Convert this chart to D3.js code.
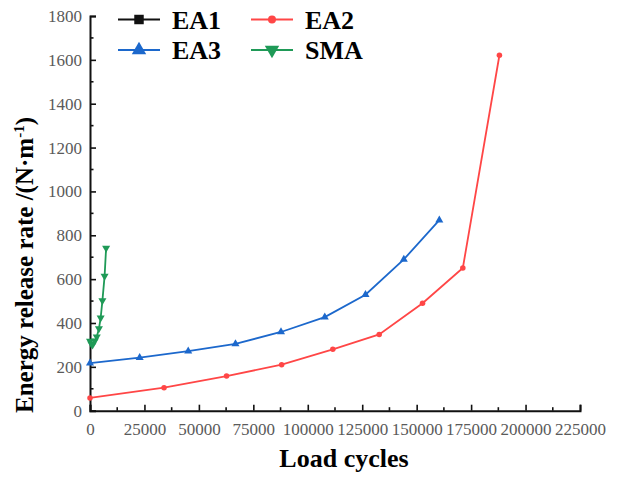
<!DOCTYPE html>
<html>
<head>
<meta charset="utf-8">
<script src="https://cdn.jsdelivr.net/npm/d3@7"></script>
<style>
  body { margin: 0; background: #fff; }
  svg { display: block; }
</style>
</head>
<body>
<div id="chart"></div>
<script>
// data
const ea2Cycles = [0, 34000, 62700, 88000, 111500, 132800, 152700, 171200, 188000];
const ea2Rate = [58, 105, 158, 210, 280, 348, 490, 651, 1621];
const ea3Cycles = [0, 22800, 45100, 66800, 87700, 107800, 126500, 144100, 160400];
const ea3Rate = [217, 242, 272, 305, 359, 427, 529, 690, 869];
const smaCycles = [0, 600, 1200, 2200, 3100, 4100, 4900, 5700, 6700, 7400];
const smaRate = [318, 305, 300, 319, 337, 374, 423, 502, 614, 742];
const ea1Cycles = [];
const ea1Rate = [];

const xTicks = [0, 25000, 50000, 75000, 100000, 125000, 150000, 175000, 200000, 225000];
const yTicks = [0, 200, 400, 600, 800, 1000, 1200, 1400, 1600, 1800];

const width = 619, height = 477;
const plotLeft = 90, plotRight = 580, plotTop = 16, plotBottom = 410.7;

const svg = d3.select("#chart").append("svg")
    .attr("width", width)
    .attr("height", height);

const x = d3.scaleLinear().domain([0, 225000]).range([plotLeft, plotRight]);
const y = d3.scaleLinear().domain([0, 1800]).range([plotBottom, plotTop]);

const serif = "'Liberation Serif', 'Times New Roman', serif";

// axes, ticks pointing inward
const xAxis = d3.axisBottom(x).tickValues(xTicks).tickSize(-6).tickPadding(12).tickFormat(d3.format("d"));
const yAxis = d3.axisLeft(y).tickValues(yTicks).tickSize(-6).tickPadding(8).tickFormat(d3.format("d"));

const gx = svg.append("g").attr("transform", `translate(0,${plotBottom})`).call(xAxis);
const gy = svg.append("g").attr("transform", `translate(${plotLeft},0)`).call(yAxis);

// minor ticks
gx.selectAll(".minor").data(d3.range(12500, 225000, 25000)).enter().append("line")
    .attr("class", "minor")
    .attr("x1", d => x(d)).attr("x2", d => x(d))
    .attr("y1", 0).attr("y2", -3.5);
gy.selectAll(".minor").data(d3.range(100, 1800, 200)).enter().append("line")
    .attr("class", "minor")
    .attr("y1", d => y(d)).attr("y2", d => y(d))
    .attr("x1", 0).attr("x2", 3.5);

[gx, gy].forEach(g => {
    g.attr("font-family", serif).attr("font-size", 17);
    g.select(".domain").attr("stroke", "#111").attr("stroke-width", 2);
    g.selectAll("line").attr("stroke", "#111").attr("stroke-width", 1.6);
    g.selectAll("text").attr("fill", "#5a5a5a");
});
gx.selectAll(".tick text").attr("dy", "0.71em");

// axis titles
svg.append("text")
    .attr("x", 344).attr("y", 467)
    .attr("text-anchor", "middle")
    .attr("font-family", serif).attr("font-weight", "bold").attr("font-size", 26)
    .text("Load cycles");

// rotated title starts at the bottom and runs up
const yTitle = svg.append("text")
    .attr("transform", "translate(33,413) rotate(-90)")
    .attr("text-anchor", "start")
    .attr("font-family", serif).attr("font-weight", "bold").attr("font-size", 25);
yTitle.append("tspan").text("Energy release rate /(N·m");
yTitle.append("tspan").attr("dy", -9).attr("font-size", 15).text("-1");
yTitle.append("tspan").attr("dy", 9).text(")");

// series
const series = [
    {name: "EA1", xs: ea1Cycles, ys: ea1Rate, color: "#111111", symbol: d3.symbolSquare},
    {name: "EA2", xs: ea2Cycles, ys: ea2Rate, color: "#ff4646", symbol: d3.symbolCircle},
    {name: "EA3", xs: ea3Cycles, ys: ea3Rate, color: "#1c68cc", symbol: d3.symbolTriangle},
    {name: "SMA", xs: smaCycles, ys: smaRate, color: "#1f9a57", symbol: d3.symbolTriangle, flip: true}
];

const line = d3.line().x(d => x(d[0])).y(d => y(d[1]));

series.forEach(s => {
    const pts = s.xs.map((v, i) => [v, s.ys[i]]);
    if (!pts.length) return;
    svg.append("path")
        .datum(pts)
        .attr("fill", "none")
        .attr("stroke", s.color)
        .attr("stroke-width", 1.8)
        .attr("d", line);
    svg.selectAll(null).data(pts).enter().append("path")
        .attr("d", d3.symbol().type(s.symbol).size(s.symbol === d3.symbolCircle ? 24 : 28))
        .attr("fill", s.color)
        .attr("transform", d => `translate(${x(d[0])},${y(d[1])})` + (s.flip ? " rotate(180)" : ""));
});

// legend, two rows of two
const legendPos = [[118, 19.5], [251, 19.5], [118, 50], [251, 50]];
series.forEach((s, i) => {
    const g = svg.append("g").attr("transform", `translate(${legendPos[i][0]},${legendPos[i][1]})`);
    g.append("line").attr("x1", 0).attr("x2", 42).attr("stroke", s.color).attr("stroke-width", 2.2);
    g.append("path")
        .attr("d", d3.symbol().type(s.symbol).size(s.symbol === d3.symbolCircle ? 50 : 90))
        .attr("fill", s.color)
        .attr("transform", "translate(21,0)" + (s.flip ? " rotate(180)" : ""));
    g.append("text")
        .attr("x", 54).attr("y", 9)
        .attr("font-family", serif).attr("font-weight", "bold").attr("font-size", 26)
        .text(s.name);
});
</script>
</body>
</html>
